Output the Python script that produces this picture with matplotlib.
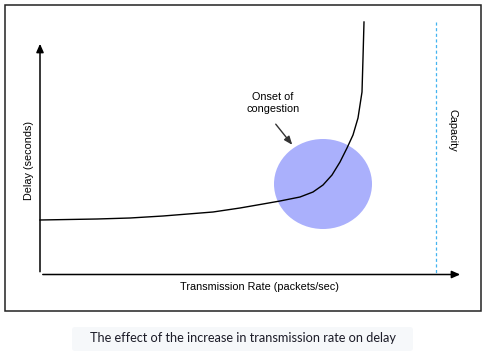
import matplotlib
matplotlib.use("Agg")
import matplotlib.pyplot as plt
from matplotlib.patches import Ellipse, Rectangle, FancyBboxPatch

# diagram values (pixel-like units of the drawing, y grows downward)
curve_x = [40, 97, 130, 163, 213, 240, 263, 280, 300, 313, 323, 332, 340, 347, 353, 358, 362, 363, 364]
curve_y = [220, 219, 218, 216, 212, 208, 204, 201, 197, 192, 185, 175, 162, 148, 135, 118, 92, 58, 22]
capacity_x = 436
congestion_center = (323, 184)
congestion_size = (98, 90)

x_label = "Transmission Rate (packets/sec)"
y_label = "Delay (seconds)"
capacity_label = "Capacity"
note_label = "Onset of\ncongestion"
caption = "The effect of the increase in transmission rate on delay"

fig = plt.figure(figsize=(4.84, 3.52), dpi=100)
ax = fig.add_axes([0, 0, 1, 1])
ax.set_xlim(0, 484)
ax.set_ylim(352, 0)
ax.axis("off")

font = "Liberation Sans"

# outer frame
ax.add_patch(Rectangle((4.5, 4.5), 476, 306, fill=False, ec="#222222", lw=1.1))

# congestion blob
ax.add_patch(Ellipse(congestion_center, *congestion_size, fc="#aab0fc", ec="none"))

# axes arrows
ax.annotate("", xy=(463, 274.5), xytext=(40, 274.5),
            arrowprops=dict(arrowstyle="-|>,head_length=0.5,head_width=0.22", color="black", lw=1.1))
ax.annotate("", xy=(40, 41), xytext=(40, 274.5),
            arrowprops=dict(arrowstyle="-|>,head_length=0.5,head_width=0.22", color="black", lw=1.1))

# capacity line
ax.plot([capacity_x, capacity_x], [22, 274], color="#44b4f0", lw=0.9, ls=(0, (2.5, 2)))
ax.text(453, 130, capacity_label, rotation=-90, ha="center", va="center",
        fontsize=7.8, family=font)

# delay curve
ax.plot(curve_x, curve_y, color="black", lw=1.0, solid_joinstyle="round")

# labels
ax.text(259.5, 286.5, x_label, ha="center", va="center", fontsize=7.8, family=font)
ax.text(29, 161, y_label, rotation=90, ha="center", va="center", fontsize=7.8, family=font)
ax.text(273, 103, note_label, ha="center", va="center", fontsize=7.8, family=font,
        linespacing=1.2)
ax.annotate("", xy=(294, 147), xytext=(274, 122),
            arrowprops=dict(arrowstyle="-|>,head_length=0.5,head_width=0.2", color="#333333", lw=1.0))

# caption box
ax.add_patch(FancyBboxPatch((72, 327), 341, 24, boxstyle="round,pad=0,rounding_size=3",
                            fc="#f6f8fa", ec="none"))
ax.text(243, 338, caption, ha="center", va="center", fontsize=9.2, family="Lato",
        color="#1c1c28")

fig.savefig("out.png", dpi=100)
